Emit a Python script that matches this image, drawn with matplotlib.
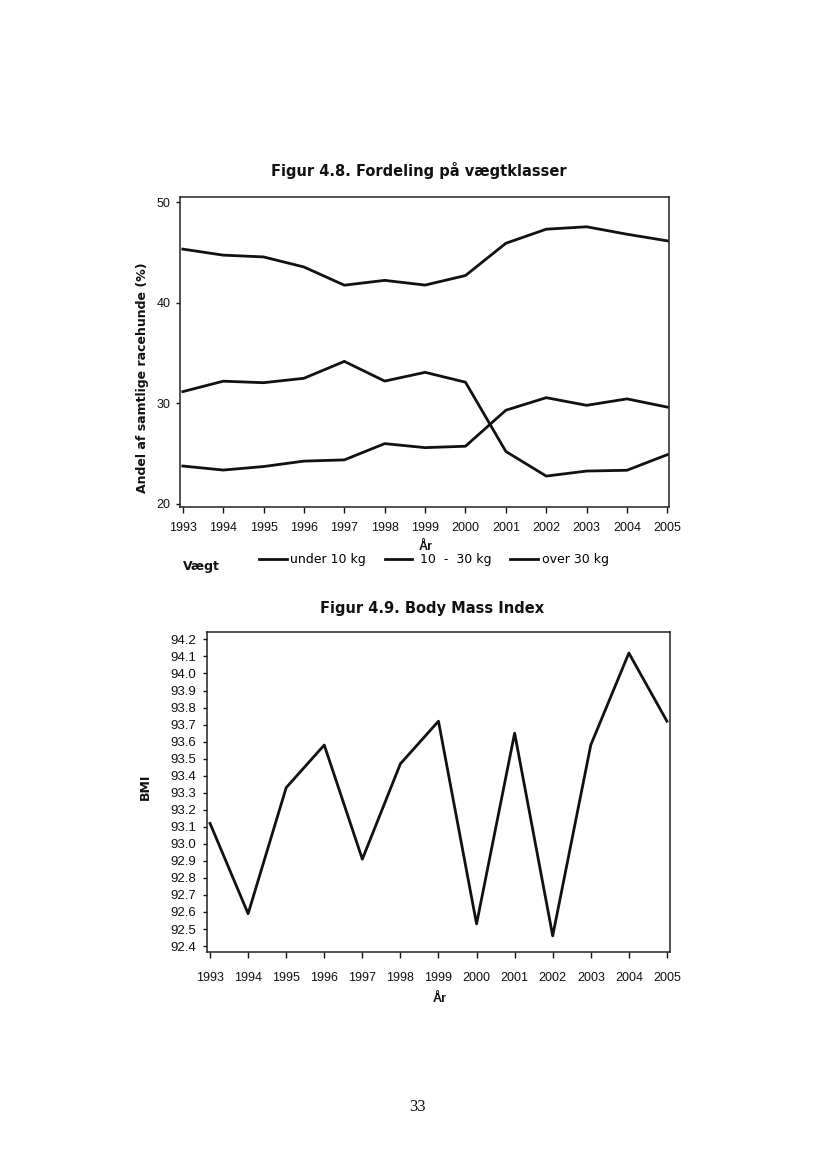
"""Two scanned report figures: weight class shares and BMI by year."""

import matplotlib

matplotlib.use("Agg")
import matplotlib.pyplot as plt

years = [1993, 1994, 1995, 1996, 1997, 1998, 1999, 2000, 2001, 2002, 2003, 2004, 2005]
year_labels = [str(y) for y in years]

# Figur 4.8 - share of all breed dogs (%) per weight class
share_under_10 = [23.77, 23.37, 23.72, 24.26, 24.38, 26.0, 25.6, 25.74, 29.32, 30.57, 29.81, 30.45, 29.63]
share_10_30 = [45.35, 44.75, 44.57, 43.57, 41.76, 42.24, 41.77, 42.72, 45.93, 47.33, 47.57, 46.83, 46.17]
share_over_30 = [31.17, 32.21, 32.06, 32.5, 34.18, 32.22, 33.09, 32.11, 25.22, 22.77, 23.27, 23.35, 24.9]
share_ticks = [20, 30, 40, 50]
weight_labels = ["under 10 kg", " 10  -  30 kg", "over 30 kg"]

# Figur 4.9 - Body Mass Index
bmi = [93.12, 92.59, 93.33, 93.58, 92.91, 93.47, 93.72, 92.53, 93.65, 92.46, 93.58, 94.12, 93.72]
bmi_ticks = [92.4, 92.5, 92.6, 92.7, 92.8, 92.9, 93.0, 93.1, 93.2, 93.3,
             93.4, 93.5, 93.6, 93.7, 93.8, 93.9, 94.0, 94.1, 94.2]

plt.rcParams["font.family"] = ["DejaVu Sans"]
INK = "#111111"
TICK_FONT = "Liberation Sans"

fig = plt.figure(figsize=(8.26, 11.69), dpi=100)
fig.patch.set_facecolor("white")


def style_axes(ax, xpad, ypad, ysize):
    for side in ("top", "right", "bottom", "left"):
        ax.spines[side].set_linewidth(1.1)
        ax.spines[side].set_color("#222222")
    ax.tick_params(axis="x", direction="out", length=4, width=1, pad=xpad,
                   labelsize=9, labelfontfamily=TICK_FONT, colors=INK)
    ax.tick_params(axis="y", direction="out", length=3, width=1, pad=ypad,
                   labelsize=ysize, labelfontfamily=TICK_FONT, colors=INK)
    ax.set_xticks(years)
    ax.set_xticklabels(year_labels)


# --- top chart -------------------------------------------------------------
ax1 = fig.add_axes([0.2179, 0.5666, 0.592, 0.2646])
l1, = ax1.plot(years, share_under_10, color=INK, lw=2.0)
l2, = ax1.plot(years, share_10_30, color=INK, lw=2.0)
l3, = ax1.plot(years, share_over_30, color=INK, lw=2.0)
ax1.set_xlim(1992.93, 2005.04)
ax1.set_ylim(19.73, 50.5)
ax1.set_yticks(share_ticks)
style_axes(ax1, xpad=7.0, ypad=3.8, ysize=9)

ax1.set_title("Figur 4.8. Fordeling på vægtklasser", fontsize=10.5,
              fontweight="bold", x=0.488, y=1.06, va="center", color=INK)
ax1.set_ylabel("Andel af samtlige racehunde (%)", fontsize=9,
               fontweight="bold", color=INK)
ax1.yaxis.set_label_coords(-0.0765, 0.418)
ax1.yaxis.label.set_va("center")
ax1.set_xlabel("År", fontsize=9, fontweight="bold",
               family="Liberation Sans", color=INK)
ax1.xaxis.set_label_coords(0.502, -0.131)
ax1.xaxis.label.set_va("center")

fig.text(183 / 826, 1 - 567 / 1169, "Vægt", fontsize=9, fontweight="bold",
         ha="left", va="center", color=INK)
ax1.legend([l1, l2, l3], weight_labels, ncol=3, frameon=False,
           loc="center left", bbox_to_anchor=(259 / 826, 1 - 560 / 1169),
           bbox_transform=fig.transFigure, borderaxespad=0, borderpad=0,
           handlelength=2.2, handletextpad=0.3, columnspacing=1.5,
           prop={"size": 9})

# --- bottom chart ----------------------------------------------------------
ax2 = fig.add_axes([0.2506, 0.1856, 0.5605, 0.2737])
ax2.plot(years, bmi, color=INK, lw=2.0)
ax2.set_xlim(1992.92, 2005.08)
ax2.set_ylim(92.365, 94.243)
ax2.set_yticks(bmi_ticks)
ax2.set_yticklabels([f"{t:.1f}" for t in bmi_ticks])
style_axes(ax2, xpad=10.5, ypad=4.8, ysize=9.5)

ax2.set_title("Figur 4.9. Body Mass Index", fontsize=10.5, fontweight="bold",
              x=0.487, y=1.048, va="center", color=INK)
ax2.set_ylabel("BMI", fontsize=9, fontweight="bold", color=INK)
ax2.yaxis.set_label_coords(-0.1327, 0.516)
ax2.yaxis.label.set_va("center")
ax2.set_xlabel("År", fontsize=9, fontweight="bold",
               family="Liberation Sans", color=INK)
ax2.xaxis.set_label_coords(0.503, -0.1456)
ax2.xaxis.label.set_va("center")

# page number
fig.text(417 / 826, 1 - 1107 / 1169, "33", fontsize=12,
         family="Liberation Serif", ha="center", va="center", color=INK)

fig.savefig("out.png", dpi=100)
